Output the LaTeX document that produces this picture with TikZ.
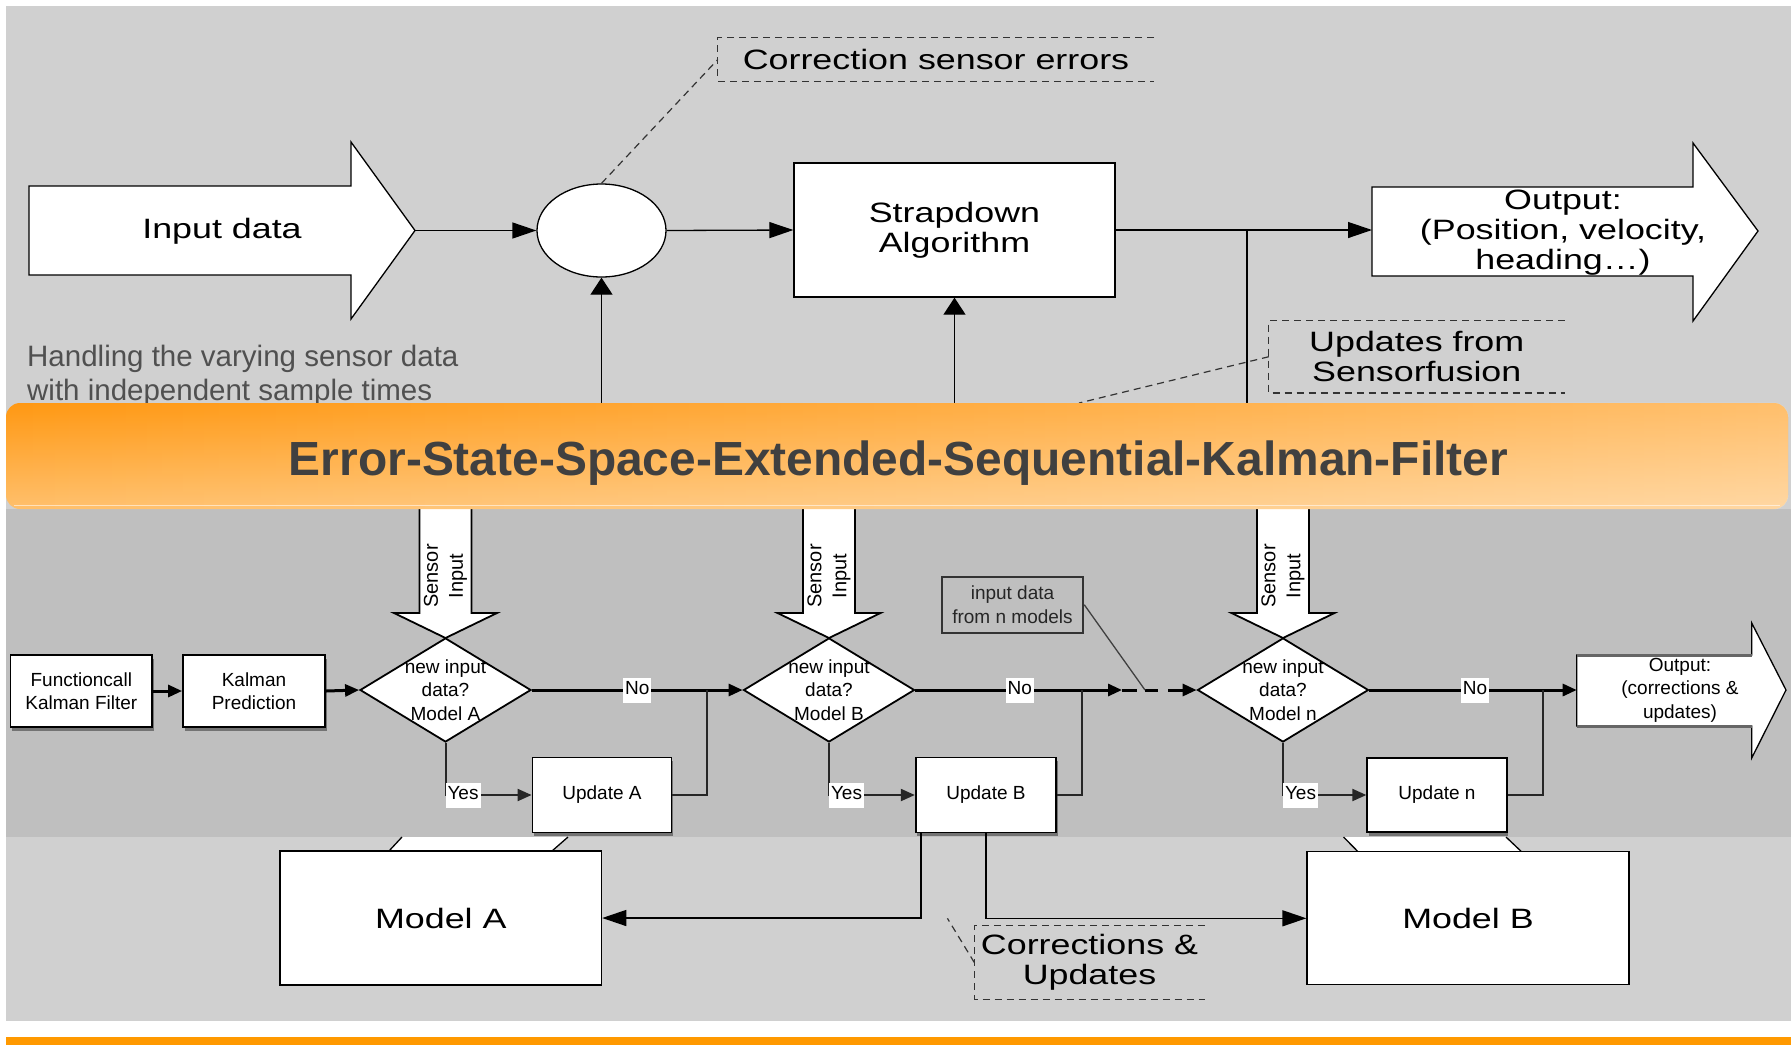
\documentclass[tikz,border=0pt]{standalone}
\usepackage{fontspec}
\setmainfont{Liberation Sans}
\newfontfamily\dgfont[FakeStretch=1.28]{Liberation Sans}
\usetikzlibrary{arrows.meta,shapes.geometric,calc,shadows,fadings}

\definecolor{panelA}{RGB}{208,208,208}
\definecolor{panelB}{RGB}{191,191,191}
\definecolor{orA}{RGB}{255,152,18}
\definecolor{orB}{RGB}{255,192,108}
\definecolor{titlec}{RGB}{64,64,64}
\definecolor{greytext}{RGB}{80,80,80}
\definecolor{obar}{RGB}{255,153,0}

\tikzfading[name=myfade, left color=transparent!100, right color=transparent!0]

\begin{document}
\begin{tikzpicture}[x=1pt,y=-1pt,
  big/.style={font=\dgfont\fontsize{28}{30}\selectfont},
  small/.style={font=\fontsize{19}{23.5}\selectfont},
  wbox/.style={draw=black,line width=1.3pt,fill=white,inner sep=0pt},
  ln/.style={line width=1.3pt},
  heavy/.style={line width=3pt},
  mid/.style={line width=2pt,draw=black!85},
  hA/.style={-{Triangle[length=24pt,width=16pt]}},
  vA/.style={-{Triangle[length=17pt,width=22pt]}},
  sA/.style={-{Triangle[length=14pt,width=12pt]}},
  note/.style={draw=black!80,line width=1.2pt,dash pattern=on 7pt off 5pt},
  fbox/.style={draw=black,line width=1.8pt,fill=white,inner sep=0pt,small,align=center,
    drop shadow={shadow xshift=1.5pt,shadow yshift=-3.5pt,fill=black!55,opacity=1}},
  dia/.style={diamond,draw=black,line width=1.8pt,fill=white,inner sep=0pt,
    minimum width=171pt,minimum height=104pt},
  lbl/.style={fill=white,small,inner xsep=2pt,inner ysep=3pt,text height=14pt,text depth=5pt},
  sensorarrow/.style={draw=black,line width=1.8pt,fill=white,line join=miter},
  blockarrow/.style={draw=black,line width=1.3pt,fill=white}
]

% ---------- background ----------
\fill[white] (0,0) rectangle (1791,1045);
\useasboundingbox (0,0) rectangle (1791,1045);
\fill[panelA] (6,6) rectangle (1791,1021);
\fill[panelB] (6,509) rectangle (1791,837);
\fill[obar] (6,1037) rectangle (1791,1045);

% ---------- top part ----------
\draw[blockarrow] (29,186) -- (351,186) -- (351,142) -- (415,230.5) -- (351,319) -- (351,275) -- (29,275) -- cycle;
\coordinate (inTip) at (415,230.5);
\node[big] (inTxt) at (222,231) {Input data};

\node[wbox,ellipse,minimum width=129pt,minimum height=93pt] (ell) at (601.5,230.5) {};
\node[wbox,big,align=center,minimum width=321pt,minimum height=134pt] (sd) at (954.5,230) {Strapdown\\Algorithm};

\draw[blockarrow] (1372,187) -- (1693,187) -- (1693,143) -- (1758,231) -- (1693,321) -- (1693,276) -- (1372,276) -- cycle;
\coordinate (outTail) at (1372,230);
\node[big,align=center] (outTxt) at (1563,233) {Output:\\(Position, velocity,\\heading…)};

\draw[ln,hA] (inTip) -- (ell.west);
\draw[ln,hA] (ell.east) -- (sd.west);
\draw[ln,hA] (sd.east) -- (outTail);
\coordinate (jTop) at (1247,230);
\coordinate (jTopB) at (1247,420);
\draw[ln] (jTop) -- (jTopB);
\coordinate (eB) at (601.5,420);
\draw[ln,vA] (eB) -- (ell.south);
\coordinate (sB) at (954.5,420);
\draw[ln,vA] (sB) -- (sd.south);

% annotations top
\node[big,minimum width=436pt,minimum height=43pt,inner sep=0pt] (cse) at (936,59.5) {Correction sensor errors};
\draw[note] (cse.north east) -- (cse.north west) -- (cse.south west) -- (cse.south east);
\draw[note] (ell.north) -- (cse.west);

\node[big,align=center,minimum width=295.5pt,minimum height=72pt,inner sep=0pt] (usf) at (1416.75,356.7) {Updates from\\Sensorfusion};
\draw[note] (usf.north east) -- (usf.north west) -- (usf.south west) -- (usf.south east);
\coordinate (usfEnd) at (1079,403);
\draw[note] (usf.west) -- (usfEnd);

\node[anchor=north west,inner sep=0pt,align=left,text=greytext,font=\fontsize{29.5}{34.3}\selectfont] (hnd) at (27,345) {Handling the varying sensor data\\with independent sample times};

% ---------- sensor input arrows (start under banner) ----------
\foreach \cx/\nm in {445.5/sA1,829/sB1,1283/sN1}{
  \draw[sensorarrow] (\cx-26,500) -- (\cx-26,613) -- (\cx-51.5,613) -- (\cx,638) -- (\cx+51.5,613) -- (\cx+26,613) -- (\cx+26,500);
  \node[rotate=90,align=center,font=\fontsize{20}{25}\selectfont] (\nm) at (\cx,576) {Sensor\\Input};
}

% ---------- banner ----------
\node[rounded corners=14pt,minimum width=1782pt,minimum height=106pt,inner sep=0pt,
  top color=orA,bottom color=orB] (banner) at (897,456) {};
\begin{scope}
  \clip[rounded corners=14pt] (banner.north west) rectangle (banner.south east);
  \fill[white,path fading=myfade,fill opacity=0.38] (-10,395) rectangle (1800,517);
\end{scope}
\draw[white,opacity=0.55,line width=1.2pt] ($(banner.south west)+(8,-4)$) -- ($(banner.south east)+(-8,-4)$);
\node[font=\bfseries\fontsize{47.9}{50}\selectfont,text=titlec,anchor=base] (title) at (898.5,475)
  {Error-State-Space-Extended-Sequential-Kalman-Filter};

% ---------- lower flowchart ----------
\node[fbox,minimum width=141.5pt,minimum height=72pt] (fc) at (81.3,691) {Functioncall\\Kalman Filter};
\node[fbox,minimum width=142pt,minimum height=72pt] (kp) at (254,691) {Kalman\\Prediction};

\node[dia] (dA) at (445.5,690) {};
\node[dia] (dB) at (829,690) {};
\node[dia] (dN) at (1283,690) {};
\node[small,align=center] (dAt) at (dA) {new input\\data?\\Model A};
\node[small,align=center] (dBt) at (dB) {new input\\data?\\Model B};
\node[small,align=center] (dNt) at (dN) {new input\\data?\\Model n};

\node[fbox,minimum width=139pt,minimum height=75pt] (uA) at (602,795) {Update A};
\node[fbox,minimum width=140.5pt,minimum height=75pt] (uB) at (986,795) {Update B};
\node[fbox,minimum width=139.5pt,minimum height=74pt] (uN) at (1437,795) {Update n};

\node[draw=black!80,line width=2pt,small,align=center,minimum width=141.5pt,minimum height=56pt,inner sep=0pt,text=black!85] (idb) at (1012.5,604.7) {input data\\from n models};

% output block arrow (lower)
\draw[blockarrow] (1576.7,655) -- (1751.7,655) -- (1751.7,623) -- (1786,690) -- (1751.7,758) -- (1751.7,726) -- (1576.7,726) -- cycle;
\draw[line width=3pt,black!60] (1576.7,655) -- (1751.7,655);
\draw[line width=3pt,black!60] (1576.7,726) -- (1751.7,726);
\coordinate (outL) at (1576.7,690);
\node[small,align=center] (outLt) at (1680,690) {Output:\\(corrections \&\\updates)};

% main line
\draw[heavy,sA] (fc.east) -- (kp.west);
\draw[heavy,sA] (kp.east) -- (dA.west);
\draw[heavy,sA] (dA.east) -- node[lbl]{No} (dB.west);
\coordinate (brk) at (1122,690);
\draw[heavy,sA] (dB.east) -- node[lbl,pos=0.505]{No} (brk);
\draw[heavy,sA,dash pattern=on 15pt off 8pt on 13pt off 10pt] (brk) -- (dN.west);
\draw[heavy,sA] (dN.east) -- node[lbl,pos=0.509]{No} (outL);

% yes branches
\draw[mid,sA] (dA.south) |- node[lbl,pos=0.5,anchor=west,xshift=-1pt]{Yes} (uA.west);
\draw[mid,sA] (dB.south) |- node[lbl,pos=0.5,anchor=west,xshift=-1pt]{Yes} (uB.west);
\draw[mid,sA] (dN.south) |- node[lbl,pos=0.5,anchor=west,xshift=-1pt]{Yes} (uN.west);
\coordinate (jA) at (706.7,690);
\coordinate (jB) at (1082,690);
\coordinate (jN) at (1542.7,690);
\draw[mid] (uA.east) -| (jA);
\draw[mid] (uB.east) -| (jB);
\draw[mid] (uN.east) -| (jN);

% leader from input-data box
\coordinate (idEnd) at (1145,690);
\draw[line width=1.3pt,black!75] (idb.east) -- (idEnd);

% ---------- bottom part ----------
\fill[white] (402,837) -- (568,837) -- (552,851) -- (389,851) -- cycle;
\draw[ln] (402,837) -- (389,851);
\draw[ln] (568,837) -- (552,851);
\fill[white] (1343.5,837) -- (1506,837) -- (1521.5,851.7) -- (1358,851.7) -- cycle;
\draw[ln] (1343.5,837) -- (1358,851.7);
\draw[ln] (1506,837) -- (1521.5,851.7);

\node[wbox,big,minimum width=321.6pt,minimum height=134pt] (mA) at (440.8,918) {Model A};
\node[wbox,big,minimum width=322pt,minimum height=133pt] (mB) at (1468,918.3) {Model B};

\draw[ln,hA] ($(uB.south west)+(6,0)$) |- (mA.east);
\draw[ln,hA] (uB.south) |- (mB.west);

\node[big,align=center,minimum width=230pt,minimum height=73pt,inner sep=0pt] (cu) at (1089.5,962.5) {Corrections \&\\Updates};
\draw[note] (cu.north east) -- (cu.north west) -- (cu.south west) -- (cu.south east);
\coordinate (cuEnd) at (947.4,918.3);
\draw[note] (cu.west) -- (cuEnd);

\end{tikzpicture}
\end{document}
